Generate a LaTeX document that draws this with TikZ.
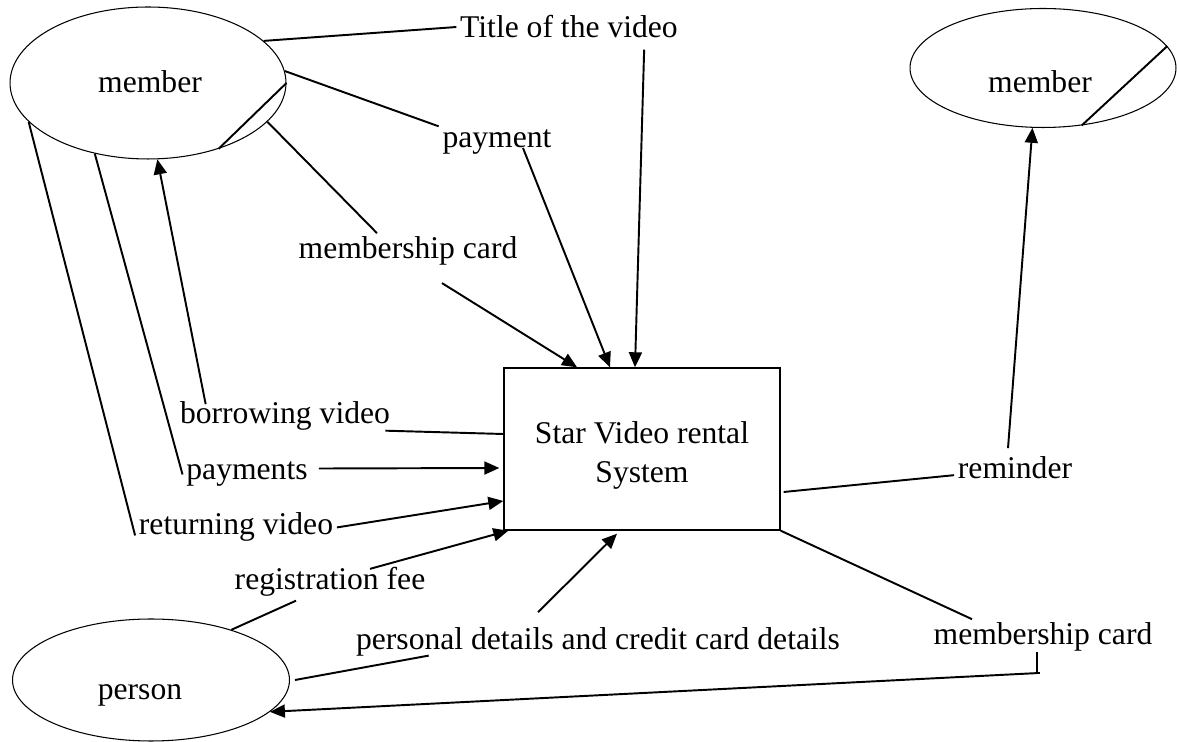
\documentclass[tikz,border=0pt]{standalone}
\usepackage{fontspec}
\setmainfont{Liberation Serif}
\usetikzlibrary{shapes.geometric, arrows.meta}

\begin{document}
\begin{tikzpicture}[x=0.02cm, y=-0.02cm, every node/.style={font=\fontsize{18}{22.2}\selectfont}]
% Define styles
\tikzstyle{entity} = [ellipse, draw=black, line width=0.6pt, minimum width=5.52cm, minimum height=3.04cm, inner sep=0pt]
\tikzstyle{system} = [rectangle, draw=black, line width=0.8pt, minimum width=5.52cm, minimum height=3.24cm, align=center, inner sep=2pt]
\tikzstyle{flowlabel} = [anchor=base, inner sep=2pt]
\tikzstyle{flow} = [line width=1.1pt]
\tikzstyle{arrow} = [line width=1.1pt, -{Triangle[length=0.3cm, width=0.26cm]}]
\useasboundingbox (0,0) rectangle (1177,742);
% Place nodes
\node (member) [entity] at (148,83) {};
\node (memberout) [entity, minimum width=5.32cm, minimum height=2.38cm] at (1043,68) {};
\node (person) [entity, minimum width=5.54cm, minimum height=2.44cm] at (151,680) {};
\node (system) [system, text height=1.46cm] at (642,449) {Star Video rental\\System};
\node (mtext) [flowlabel] at (150,93) {member};
\node (motext) [flowlabel] at (1040,93) {member};
\node (ptext) [flowlabel] at (140,700) {person};
\node (title) [flowlabel] at (569,38) {Title of the video};
\node (payment) [flowlabel] at (497,148) {payment};
\node (cardin) [flowlabel] at (408,259) {membership card};
\node (borrow) [flowlabel] at (285,424) {borrowing video};
\node (payments) [flowlabel] at (247,480) {payments};
\node (return) [flowlabel] at (236,535) {returning video};
\node (fee) [flowlabel] at (330,590) {registration fee};
\node (details) [flowlabel] at (598,650) {personal details and credit card details};
\node (reminder) [flowlabel] at (1015,479) {reminder};
\node (cardout) [flowlabel] at (1043,645) {membership card};
% Draw flows
\draw [flow] (member.20) -- (title.west);
\draw [arrow] ([xshift=-0.75cm, yshift=-0.15cm]title.south east) -- ([xshift=-0.14cm]system.north);
\draw [flow] (member.5) -- (payment.north west);
\draw [arrow] ([xshift=0.52cm]payment.base) -- ([xshift=-0.64cm]system.north);
\draw [flow] (member.-18) -- ([xshift=-0.62cm]cardin.north);
\draw [arrow] ([xshift=0.68cm, yshift=-0.27cm]cardin.south) -- ([xshift=-1.3cm]system.north);
\draw [flow] (member.east) -- (member.-43);
\draw [arrow] ([xshift=0.59cm, yshift=-0.12cm]borrow.north west) -- (member.-83);
\draw [flow] ([xshift=-0.17cm, yshift=0.08cm]borrow.south east) -- ([yshift=0.3cm]system.west);
\draw [flow] (member.233) -- (payments.west);
\draw [arrow] ([xshift=0.15cm, yshift=0.12cm]payments.east) -- ([xshift=-0.08cm, yshift=-0.38cm]system.west);
\draw [flow] (member.198) -- ([yshift=-0.16cm]return.west);
\draw [arrow] (return.east) -- ([yshift=-1.04cm]system.west);
\draw [arrow] ([xshift=0.8cm, yshift=-0.1cm]fee.north) -- ([xshift=0.1cm]system.south west);
\draw [flow] (person.32) -- ([xshift=-0.68cm]fee.south);
\draw [flow] ([xshift=0.1cm]person.east) -- ([xshift=1.53cm, yshift=0.1cm]details.south west);
\draw [arrow] ([xshift=-1.2cm, yshift=0.24cm]details.north) -- ([xshift=-0.5cm, yshift=-0.06cm]system.south);
\draw [flow] ([xshift=0.06cm, yshift=-0.86cm]system.east) -- ([yshift=-0.14cm]reminder.west);
\draw [arrow] ([xshift=-0.14cm, yshift=0.1cm]reminder.north) -- (memberout.-100);
\draw [flow] (memberout.10) -- (memberout.-56);
\draw [flow] (system.south east) -- ([xshift=-1.42cm]cardout.north);
\draw [flow] ([xshift=-0.12cm, yshift=0.07cm]cardout.south) -- ++(0,21) coordinate (cardbend) -- ++(3,0);
\draw [arrow] (cardbend) -- (person.-15);
\end{tikzpicture}
\end{document}
